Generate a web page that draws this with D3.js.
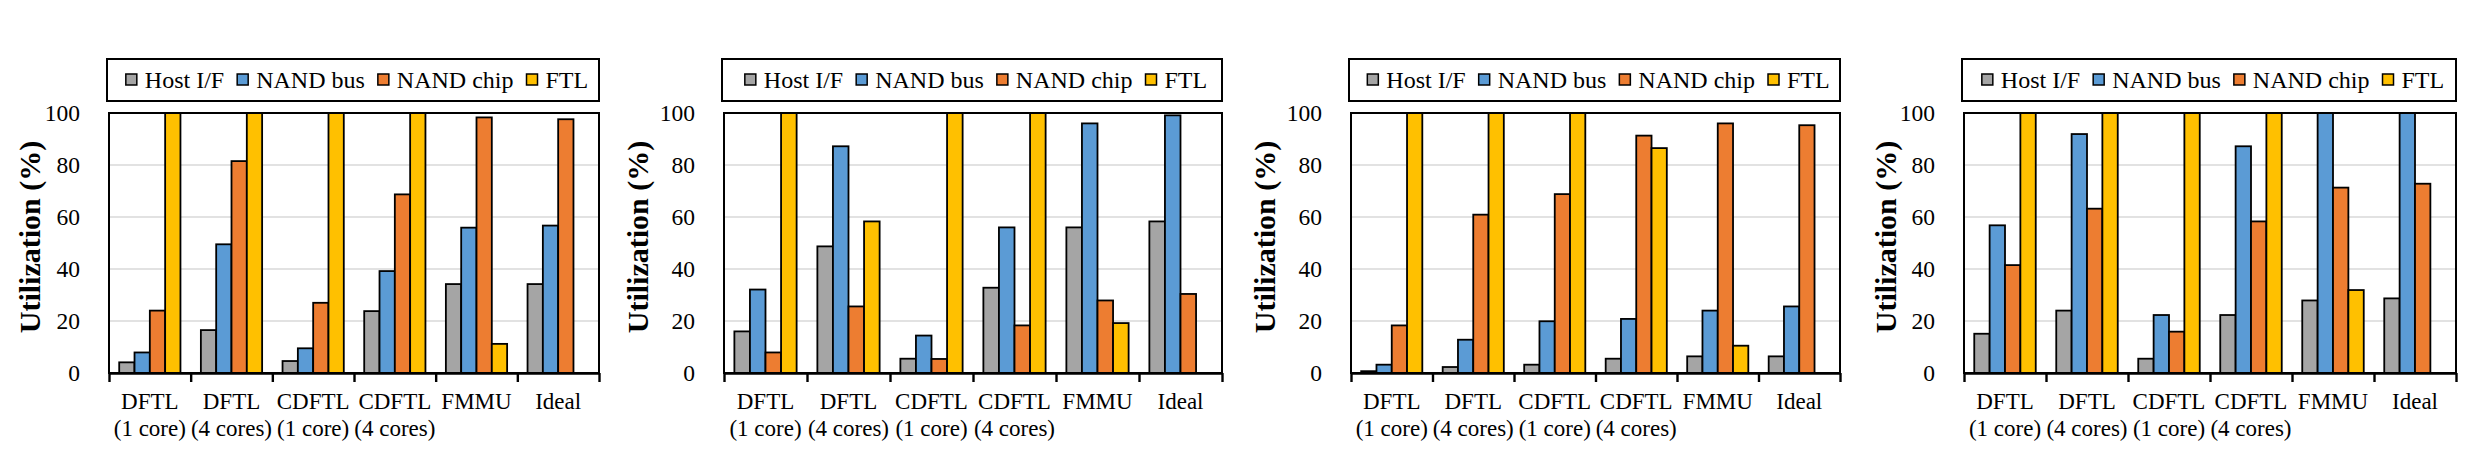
<!DOCTYPE html>
<html>
<head>
<meta charset="utf-8">
<script src="https://cdn.jsdelivr.net/npm/d3@7"></script>
<style>
body { margin: 0; background: #fff; }
svg text { font-family: "Liberation Serif", "Times New Roman", serif; fill: #000; }
</style>
</head>
<body>
<script>
// categories (two text lines each) and series
var categories = [["DFTL", "(1 core)"], ["DFTL", "(4 cores)"], ["CDFTL", "(1 core)"], ["CDFTL", "(4 cores)"], ["FMMU", ""], ["Ideal", ""]];
var seriesNames = ["Host I/F", "NAND bus", "NAND chip", "FTL"];
var seriesColors = ["#A5A5A5", "#5B9BD5", "#ED7D31", "#FFC000"];
var yTicks = [0, 20, 40, 60, 80, 100];

// one row per series: Host I/F, NAND bus, NAND chip, FTL
var panel1 = [
  [4.1, 16.5, 4.6, 23.8, 34.2, 34.2],
  [7.9, 49.5, 9.5, 39.2, 55.9, 56.7],
  [24.0, 81.5, 27.0, 68.7, 98.3, 97.6],
  [100, 100, 100, 100, 11.2, 0]
];
var panel2 = [
  [16.0, 48.7, 5.5, 32.8, 56.0, 58.3],
  [32.1, 87.2, 14.4, 56.0, 96.0, 99.1],
  [7.9, 25.6, 5.4, 18.3, 27.9, 30.4],
  [100, 58.3, 100, 100, 19.2, 0]
];
var panel3 = [
  [0.7, 2.3, 3.2, 5.5, 6.4, 6.4],
  [3.2, 12.8, 19.9, 20.8, 24.0, 25.6],
  [18.3, 60.9, 68.8, 91.3, 96.0, 95.3],
  [100, 100, 100, 86.5, 10.5, 0]
];
var panel4 = [
  [15.1, 24.0, 5.5, 22.3, 27.9, 28.7],
  [56.8, 91.9, 22.3, 87.2, 100, 100],
  [41.5, 63.2, 15.9, 58.3, 71.3, 72.8],
  [100, 100, 100, 100, 31.9, 0]
];

var serif = '"Liberation Serif", "Times New Roman", serif';
var width = 2467, height = 463;
var svg = d3.select("body")
    .append("svg")
    .attr("width", width)
    .attr("height", height)
    .style("font-family", serif);

// plot area edges per panel and distance of the axis title from the plot
var panels = [
  {left: 109, right: 599, titleOff: 80, data: panel1},
  {left: 724, right: 1222, titleOff: 87, data: panel2},
  {left: 1351, right: 1840, titleOff: 87, data: panel3},
  {left: 1964, right: 2456, titleOff: 79, data: panel4}
];
var plotTop = 113, plotBottom = 373;
var legTop = 59, legBottom = 101;

panels.forEach(function(p) {
    var g = svg.append("g");

    var x0 = d3.scaleBand()
        .domain(d3.range(categories.length))
        .range([p.left, p.right]);
    var bw = x0.bandwidth();
    var x1 = d3.scaleBand()
        .domain(d3.range(seriesNames.length))
        .range([bw * 0.125, bw * 0.875]);
    var xb = d3.scaleLinear()
        .domain([0, categories.length])
        .range([p.left, p.right]);
    var y = d3.scaleLinear()
        .domain([0, 100])
        .range([plotBottom, plotTop]);

    // gridlines
    g.append("g")
        .selectAll("line")
        .data(yTicks.filter(function(t) { return t > 0 && t < 100; }))
        .enter().append("line")
        .attr("x1", p.left)
        .attr("x2", p.right)
        .attr("y1", function(d) { return y(d); })
        .attr("y2", function(d) { return y(d); })
        .attr("stroke", "#D9D9D9")
        .attr("stroke-width", 1.6);

    // bars
    var cells = [];
    p.data.forEach(function(row, s) {
        row.forEach(function(v, c) {
            if (v > 0) cells.push({s: s, c: c, v: Math.min(v, 100)});
        });
    });
    g.append("g")
        .selectAll("rect")
        .data(cells)
        .enter().append("rect")
        .attr("x", function(d) { return x0(d.c) + x1(d.s); })
        .attr("y", function(d) { return y(d.v); })
        .attr("width", x1.bandwidth())
        .attr("height", function(d) { return plotBottom - y(d.v); })
        .attr("fill", function(d) { return seriesColors[d.s]; })
        .attr("stroke", "#000")
        .attr("stroke-width", 1.8);

    // plot border
    g.append("rect")
        .attr("x", p.left)
        .attr("y", plotTop)
        .attr("width", p.right - p.left)
        .attr("height", plotBottom - plotTop)
        .attr("fill", "none")
        .attr("stroke", "#000")
        .attr("stroke-width", 2);

    // x axis with ticks between groups
    var xAxis = g.append("g")
        .attr("transform", "translate(0," + plotBottom + ")")
        .call(d3.axisBottom(xb).ticks(categories.length).tickSize(9).tickSizeOuter(0).tickFormat(""));
    xAxis.selectAll("path, line").attr("stroke", "#000").attr("stroke-width", 2.4);

    // category labels
    var lab = g.append("g")
        .selectAll("text")
        .data(categories)
        .enter().append("text")
        .attr("text-anchor", "middle")
        .style("font-size", "23px");
    lab.append("tspan")
        .attr("x", function(d, i) { return x0(i) + bw / 2; })
        .attr("y", 409)
        .text(function(d) { return d[0]; });
    lab.append("tspan")
        .attr("x", function(d, i) { return x0(i) + bw / 2; })
        .attr("y", 436)
        .text(function(d) { return d[1]; });

    // y axis labels
    var yAxis = g.append("g")
        .attr("transform", "translate(" + p.left + ",0)")
        .call(d3.axisLeft(y).tickValues(yTicks).tickSize(0).tickPadding(29))
        .attr("font-family", serif);
    yAxis.select(".domain").remove();
    yAxis.selectAll("text")
        .style("font-size", "23.5px");

    // axis title
    g.append("text")
        .attr("transform", "translate(" + (p.left - p.titleOff) + "," + 237 + ") rotate(-90)")
        .attr("text-anchor", "middle")
        .attr("dominant-baseline", "central")
        .style("font-size", "30px")
        .style("font-weight", "bold")
        .text("Utilization (%)");

    // legend
    g.append("rect")
        .attr("x", p.left - 2)
        .attr("y", legTop)
        .attr("width", p.right - p.left + 2)
        .attr("height", legBottom - legTop)
        .attr("fill", "#fff")
        .attr("stroke", "#000")
        .attr("stroke-width", 2);
    var leg = g.append("g");
    var pos = 0;
    seriesNames.forEach(function(name, i) {
        var item = leg.append("g").attr("transform", "translate(" + pos + ",0)");
        item.append("rect")
            .attr("x", 0)
            .attr("y", -6)
            .attr("width", 11)
            .attr("height", 11)
            .attr("fill", seriesColors[i])
            .attr("stroke", "#000")
            .attr("stroke-width", 1.5);
        var t = item.append("text")
            .attr("x", 19)
            .attr("y", 8)
            .style("font-size", "24px")
            .text(name);
        pos += 19 + t.node().getComputedTextLength() + 13;
    });
    var legW = pos - 13;
    var legCx = (p.left + p.right) / 2;
    leg.attr("transform", "translate(" + (legCx - legW / 2 + 3) + "," + ((legTop + legBottom) / 2) + ")");
});
</script>
</body>
</html>
